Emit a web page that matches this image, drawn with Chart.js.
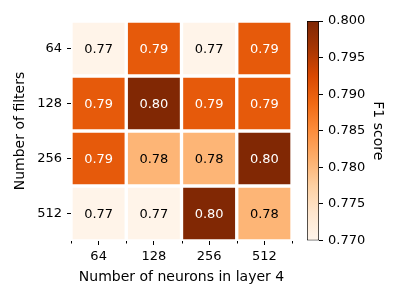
<!DOCTYPE html>
<html>
<head>
<meta charset="utf-8">
<script src="https://cdn.jsdelivr.net/npm/chart.js@4.4.1/dist/chart.umd.min.js"></script>
<style>
  body { margin: 0; background: #fff; }
  #wrap { position: relative; width: 400px; height: 300px; }
  #wrap canvas { position: absolute; left: 0; top: 0; }
</style>
</head>
<body>
<div id="wrap">
  <canvas id="heat" width="400" height="300"></canvas>
  <canvas id="cbar" width="400" height="300"></canvas>
</div>
<script>
// layer-4 neurons (columns) and filter counts (rows)
const neurons = ['64', '128', '256', '512'];
const filters = ['64', '128', '256', '512'];

// F1 score per row (filters), one value per neuron column
const f1Filters64 = [0.7703, 0.7905, 0.7703, 0.7905];
const f1Filters128 = [0.7905, 0.7998, 0.7905, 0.7905];
const f1Filters256 = [0.7905, 0.7805, 0.7805, 0.7998];
const f1Filters512 = [0.7703, 0.7703, 0.7998, 0.7805];
const f1Rows = [f1Filters64, f1Filters128, f1Filters256, f1Filters512];

const vmin = 0.770;
const vmax = 0.800;
const cbarTicks = [0.770, 0.775, 0.780, 0.785, 0.790, 0.795, 0.800];

// matplotlib "Oranges"
const oranges = ['#fff5eb', '#fee6ce', '#fdd0a2', '#fdae6b', '#fd8d3c', '#f16913', '#d94801', '#a63603', '#7f2704'];

function hex2rgb(h) {
  return [parseInt(h.slice(1, 3), 16), parseInt(h.slice(3, 5), 16), parseInt(h.slice(5, 7), 16)];
}
function cmap(v) {
  let t = (v - vmin) / (vmax - vmin);
  t = Math.max(0, Math.min(1, t));
  const p = t * (oranges.length - 1);
  const i = Math.min(Math.floor(p), oranges.length - 2);
  const f = p - i;
  const a = hex2rgb(oranges[i]), b = hex2rgb(oranges[i + 1]);
  const c = a.map((x, k) => Math.round(x + (b[k] - x) * f));
  return 'rgb(' + c.join(',') + ')';
}

Chart.defaults.font.family = "'DejaVu Sans', sans-serif";
Chart.defaults.font.size = 13;
Chart.defaults.color = '#000';

const titleFont = { size: 14 };

// cell annotations
const cellText = {
  id: 'cellText',
  afterDatasetsDraw(chart) {
    const ctx = chart.ctx;
    ctx.save();
    ctx.font = "13px 'DejaVu Sans'";
    ctx.textAlign = 'center';
    ctx.textBaseline = 'middle';
    chart.data.datasets.forEach((ds, r) => {
      chart.getDatasetMeta(r).data.forEach((el, c) => {
        const p = el.getProps(['x', 'y', 'base'], true);
        const v = f1Rows[r][c];
        ctx.fillStyle = (v - vmin) / (vmax - vmin) > 0.5 ? '#fff' : '#000';
        ctx.fillText(v.toFixed(2), p.x, (p.y + p.base) / 2 + 1);
      });
    });
    ctx.restore();
  }
};

// small ticks at the column edges
const edgeTicks = {
  id: 'edgeTicks',
  afterDraw(chart) {
    const xs = chart.scales.x;
    const ctx = chart.ctx;
    ctx.save();
    ctx.strokeStyle = '#000';
    ctx.lineWidth = 1;
    for (let i = 0; i <= neurons.length; i++) {
      const px = Math.round(xs.getPixelForValue(i - 0.5)) + 0.5;
      ctx.beginPath();
      ctx.moveTo(px, xs.top);
      ctx.lineTo(px, xs.top + 2.5);
      ctx.stroke();
    }
    ctx.restore();
  }
};

new Chart(document.getElementById('heat'), {
  type: 'bar',
  data: {
    labels: neurons,
    datasets: filters.map((f, r) => ({
      label: f,
      data: neurons.map(() => 1),
      backgroundColor: f1Rows[r].map(cmap),
      borderColor: '#fff',
      borderWidth: 2,
      borderSkipped: false,
      barPercentage: 1,
      categoryPercentage: 1
    }))
  },
  options: {
    responsive: false,
    animation: false,
    layout: { padding: { left: 0, right: 108, top: 21, bottom: 0 } },
    plugins: { legend: { display: false }, tooltip: { enabled: false } },
    scales: {
      x: {
        stacked: true,
        border: { display: false },
        grid: { display: true, drawOnChartArea: false, offset: false, tickLength: 4, color: '#000' },
        ticks: { padding: 4 },
        title: { display: true, text: 'Number of neurons in layer 4', font: titleFont, padding: { top: 0, bottom: 14 } },
        afterFit(s) { s.height = 59; }
      },
      y: {
        stacked: true,
        reverse: true,
        min: 0,
        max: filters.length,
        border: { display: false },
        grid: { display: true, drawOnChartArea: false, tickLength: 4, color: '#000' },
        afterBuildTicks(s) { s.ticks = filters.map((f, i) => ({ value: i + 0.5 })); },
        ticks: { padding: 5, callback: (v, i) => filters[i] },
        title: { display: true, text: 'Number of filters', font: titleFont, padding: { top: 11.5, bottom: 0 } },
        afterFit(s) { s.width = 71; }
      }
    }
  },
  plugins: [cellText, edgeTicks]
});

// colorbar
new Chart(document.getElementById('cbar'), {
  type: 'bar',
  data: {
    labels: [''],
    datasets: [{
      data: [[vmin, vmax]],
      backgroundColor(c) {
        const area = c.chart.chartArea;
        if (!area) return null;
        const g = c.chart.ctx.createLinearGradient(0, area.bottom, 0, area.top);
        oranges.forEach((col, i) => g.addColorStop(i / (oranges.length - 1), col));
        return g;
      },
      borderColor: '#000',
      borderWidth: 1,
      borderSkipped: false,
      barPercentage: 1,
      categoryPercentage: 1
    }]
  },
  options: {
    responsive: false,
    animation: false,
    layout: { padding: { left: 307, right: 0, top: 21, bottom: 59.5 } },
    plugins: { legend: { display: false }, tooltip: { enabled: false } },
    scales: {
      x: { display: false },
      y: {
        position: 'right',
        min: vmin,
        max: vmax,
        border: { display: false },
        grid: { display: true, drawOnChartArea: false, tickLength: 4, color: '#000' },
        afterBuildTicks(s) { s.ticks = cbarTicks.map(v => ({ value: v })); },
        ticks: { padding: 5, callback: v => v.toFixed(3) },
        title: { display: true, text: 'F1 score', font: titleFont, padding: { top: 13.5, bottom: 0 } },
        afterFit(s) { s.width = 81; }
      }
    }
  }
});
</script>
</body>
</html>
